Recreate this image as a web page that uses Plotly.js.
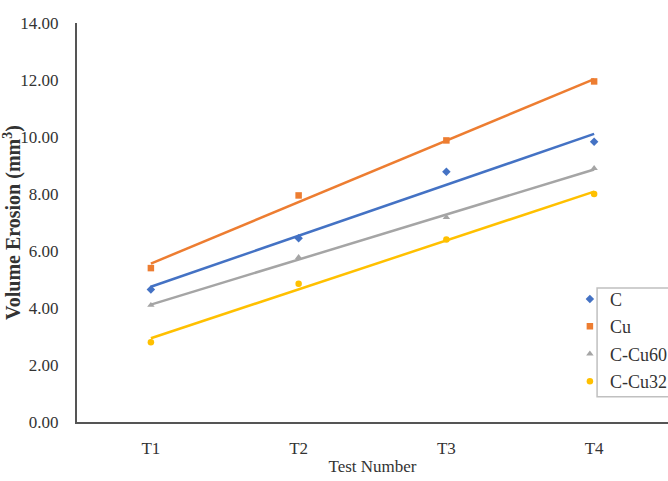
<!DOCTYPE html>
<html>
<head>
<meta charset="utf-8">
<script src="https://cdn.plot.ly/plotly-3.0.1.min.js"></script>
<style>html,body{margin:0;padding:0;background:#fff;overflow:hidden}#chart{width:668px;height:481px}</style>
</head>
<body>
<div id="chart"></div>
<script>
const categories = ["T1", "T2", "T3", "T4"];
const seriesNames = ["C", "Cu", "C-Cu60", "C-Cu32"];
const valuesC = [4.65, 6.45, 8.78, 9.83];
const valuesCu = [5.40, 7.95, 9.88, 11.95];
const valuesCCu60 = [4.10, 5.78, 7.18, 8.90];
const valuesCCu32 = [2.80, 4.85, 6.40, 8.00];
const yTickVals = [0, 2, 4, 6, 8, 10, 12, 14];

const allValues = [valuesC, valuesCu, valuesCCu60, valuesCCu32];
const colors = ["#4472C4", "#ED7D31", "#A5A5A5", "#FFC000"];
const symbols = ["diamond", "square", "triangle-up", "circle"];

function linfit(vals) {
  const n = vals.length;
  const xs = vals.map((_, i) => i);
  const mx = xs.reduce((a, b) => a + b, 0) / n;
  const my = vals.reduce((a, b) => a + b, 0) / n;
  let sxy = 0, sxx = 0;
  for (let i = 0; i < n; i++) { sxy += (xs[i] - mx) * (vals[i] - my); sxx += (xs[i] - mx) ** 2; }
  const b = sxy / sxx, a = my - b * mx;
  return xs.map(x => a + b * x);
}

const traces = [];
allValues.forEach((vals, k) => {
  traces.push({
    x: categories, y: linfit(vals), mode: "lines", type: "scatter",
    line: {color: colors[k], width: 2.5}, showlegend: false, hoverinfo: "skip"
  });
});
allValues.forEach((vals, k) => {
  traces.push({
    x: categories, y: vals, mode: "markers", type: "scatter", name: seriesNames[k],
    legendgroup: "g" + k,
    marker: {color: colors[k], symbol: symbols[k], size: 6.5}
  });
});

const font = "'Liberation Serif', 'Times New Roman', serif";
const layout = {
  width: 668, height: 481,
  margin: {l: 77, r: 0, t: 23, b: 59, autoexpand: false},
  paper_bgcolor: "#fff", plot_bgcolor: "#fff",
  font: {family: font, color: "#333", size: 17},
  showlegend: true,
  legend: {
    x: 0.834, y: 0.354, xanchor: "left", yanchor: "top",
    bgcolor: "rgba(255,255,255,0)", borderwidth: 0,
    traceorder: "grouped", tracegroupgap: 1,
    font: {family: font, size: 18, color: "#333"}
  },
  xaxis: {
    type: "category", range: [-0.5, 3.5],
    showline: true, linecolor: "#555", linewidth: 2,
    showgrid: false, zeroline: false, ticks: "", ticklabelstandoff: 10,
    tickfont: {family: font, size: 17, color: "#333"},
    title: {text: "Test Number", font: {family: font, size: 17, color: "#333"}, standoff: 3}
  },
  yaxis: {
    range: [0, 14], tickvals: yTickVals, tickformat: ".2f",
    showline: true, linecolor: "#555", linewidth: 2,
    showgrid: false, zeroline: false, ticks: "", ticklabelstandoff: 13,
    tickfont: {family: font, size: 17, color: "#333"},
    title: {text: "<b>Volume Erosion (mm<sup>3</sup>)</b>", font: {family: font, size: 20, color: "#333"}, standoff: 1}
  },
  shapes: [{
    type: "rect", xref: "paper", yref: "paper",
    x0: 0.88, x1: 1.05, y0: 0.063, y1: 0.336,
    line: {color: "#c0c0c0", width: 1.5}, fillcolor: "rgba(255,255,255,0)", layer: "above"
  }]
};

Plotly.newPlot("chart", traces, layout, {displayModeBar: false, staticPlot: true});
</script>
</body>
</html>
